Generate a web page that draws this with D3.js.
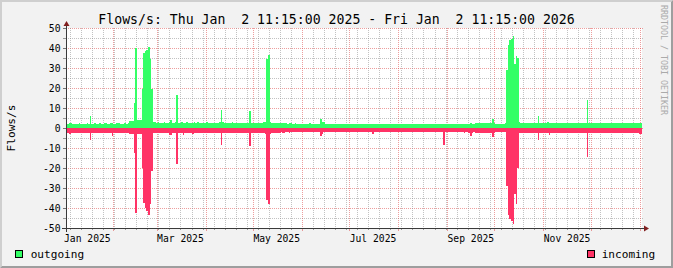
<!DOCTYPE html>
<html><head><meta charset="utf-8">
<script src="https://cdn.jsdelivr.net/npm/d3@7"></script>
<style>
html,body{margin:0;padding:0;background:#f2f2f2;}
svg{display:block;font-family:"DejaVu Sans Mono",monospace;}
</style>
</head><body>
<svg id="chart" width="673" height="268"></svg>
<script>
// ---------------- data ----------------
const titleText = "Flows/s: Thu Jan  2 11:15:00 2025 - Fri Jan  2 11:15:00 2026";
const yAxisTitle = "Flows/s";
const watermark = "RRDTOOL / TOBI OETIKER";
const seriesNames = ["outgoing", "incoming"];
const seriesColors = ["#33ff66", "#ff3366"];
const startDate = new Date(2025, 0, 2, 11, 15);
const endDate = new Date(2026, 0, 2, 11, 15);
const yDomain = [-50, 50];

// daily values, day 0 = Jan 2 2025
const outgoing = [
  1.8,1.8,2.6,2.6,2.0,2.2,2.0,2.2,2.3,2.0,
  2.1,2.2,2.0,2.3,2.1,6.2,2.2,2.0,2.4,2.2,
  2.0,2.3,2.1,2.2,2.5,2.3,2.1,2.2,2.4,2.3,
  2.2,2.1,2.3,2.4,2.2,2.2,2.1,2.3,2.2,2.4,
  3.5,3.5,3.6,12.6,40,4.0,4.0,4.0,19.6,37.6,
  38.4,39.2,40.6,34.6,19.6,3.0,2.8,2.6,2.8,2.6,
  2.7,2.6,2.9,2.5,2.6,2.8,4.0,2.6,2.7,2.8,
  16.7,2.7,2.6,2.8,2.6,2.7,3.0,2.6,2.5,2.7,
  2.6,2.8,2.6,3.2,2.7,2.6,2.5,2.7,2.6,2.8,
  2.6,2.5,2.7,2.6,2.4,2.7,2.6,2.8,9.2,2.9,
  2.6,2.5,2.7,2.6,2.5,2.8,2.6,2.5,2.7,2.6,
  2.4,2.6,2.5,2.7,2.6,2.5,8.5,2.6,2.4,2.5,
  2.6,2.7,2.5,2.4,2.6,2.8,3.0,34.5,36.5,3.2,
  2.6,2.5,2.4,2.6,2.5,2.4,2.3,2.5,2.4,2.3,
  2.2,2.4,2.3,2.2,2.1,2.3,2.2,2.1,2.0,2.2,
  2.1,2.0,2.2,2.1,2.3,2.0,2.1,2.2,2.0,2.1,
  2.2,4.5,3.0,2.8,2.2,2.0,2.1,2.2,2.0,1.9,
  2.0,2.1,1.9,2.0,2.1,1.9,2.0,1.8,2.0,1.9,
  1.8,2.0,1.9,1.8,2.0,1.9,1.8,2.0,1.9,1.8,
  1.9,1.8,2.0,1.9,1.8,1.9,2.0,1.8,1.9,2.0,
  1.9,1.8,1.9,2.0,1.8,1.9,1.8,2.0,1.9,1.8,
  1.9,2.0,1.8,1.9,1.8,1.9,2.0,1.9,1.8,1.9,
  2.0,1.9,1.8,1.9,2.0,1.8,1.9,2.0,1.9,1.8,
  1.9,2.0,1.9,1.8,1.9,2.0,1.9,1.8,1.9,2.0,
  1.9,2.0,2.1,1.9,2.0,2.1,2.0,1.9,2.1,2.0,
  2.1,2.2,2.0,2.1,2.2,2.1,2.4,2.2,2.1,2.3,
  2.4,2.5,2.6,2.4,2.5,2.6,2.5,2.6,2.4,2.5,
  4.3,2.6,2.0,2.0,2.1,2.0,2.2,2.1,2.3,28.9,
  41.4,43.9,44.5,46.2,32,36.2,35.1,2.8,2.5,2.4,
  2.5,2.4,2.6,2.5,2.4,2.5,2.7,2.6,2.5,6.2,
  2.6,2.5,2.7,2.6,2.5,3.0,2.6,2.5,2.7,2.6,
  2.5,2.6,2.4,2.5,2.6,2.5,2.4,2.6,2.5,2.4,
  2.6,2.5,2.4,2.6,2.5,2.7,2.5,2.4,2.6,2.5,
  14.2,2.6,2.5,2.4,2.6,2.5,2.4,2.6,2.5,2.4,
  2.5,2.6,2.4,2.5,2.3,2.5,2.4,2.6,2.5,2.4,
  2.6,2.5,2.4,2.5,2.6,2.4,2.5,2.6,2.4,2.5,
  2.6,2.5,2.4,2.5,2.4
];
const incoming = [
  -2.4,-2.4,-2.8,-2.6,-2.3,-2.5,-2.4,-2.3,-2.5,-2.4,
  -2.3,-2.5,-2.4,-2.6,-2.3,-6.1,-2.5,-2.4,-2.3,-2.5,
  -2.4,-2.6,-2.5,-2.3,-2.4,-2.6,-2.5,-2.4,-2.5,-3.8,
  -2.5,-2.4,-2.6,-2.5,-2.4,-2.3,-2.5,-2.4,-2.6,-2.5,
  -2.8,-3.0,-3.0,-12.4,-42.4,-3.0,-3.0,-3.2,-19.9,-37.4,
  -39.9,-41.6,-43.6,-38.2,-21.6,-2.6,-2.4,-2.5,-2.6,-2.4,
  -2.5,-2.6,-2.4,-2.5,-2.6,-3.7,-3.5,-2.5,-2.4,-2.6,
  -18.2,-2.5,-2.4,-2.6,-3.3,-2.5,-2.4,-2.6,-2.5,-2.4,
  -3.2,-2.6,-2.5,-2.4,-2.6,-2.5,-2.4,-2.5,-2.6,-2.5,
  -2.4,-2.6,-2.5,-2.4,-2.5,-2.6,-2.4,-2.5,-8.6,-2.6,
  -2.5,-2.4,-2.6,-2.5,-2.4,-2.6,-2.5,-2.4,-2.6,-2.5,
  -2.4,-2.6,-2.5,-2.4,-2.5,-2.6,-9.0,-2.5,-2.4,-2.6,
  -2.5,-2.4,-2.6,-2.5,-2.4,-2.6,-2.8,-36,-38,-2.8,
  -2.5,-2.4,-2.3,-2.5,-2.4,-2.3,-2.2,-2.4,-2.3,-2.2,
  -2.1,-2.3,-2.2,-2.1,-2.0,-2.2,-2.1,-2.0,-2.2,-2.1,
  -2.0,-2.1,-2.2,-2.0,-2.1,-2.2,-2.0,-2.1,-2.0,-2.2,
  -2.1,-4.0,-2.8,-2.2,-2.0,-2.1,-2.2,-2.0,-2.1,-2.0,
  -1.9,-2.0,-2.1,-1.9,-2.0,-1.8,-1.9,-2.0,-1.8,-1.9,
  -2.0,-1.9,-1.8,-2.0,-1.9,-1.8,-2.0,-1.9,-1.8,-1.9,
  -1.8,-1.9,-2.0,-1.9,-3.0,-1.8,-1.9,-2.0,-1.9,-1.8,
  -1.9,-2.0,-1.8,-1.9,-2.0,-1.9,-1.8,-1.9,-2.0,-1.9,
  -1.8,-1.9,-2.0,-1.9,-1.8,-1.9,-2.0,-1.8,-1.9,-2.0,
  -1.9,-1.8,-2.0,-1.9,-1.8,-2.0,-1.9,-1.8,-1.9,-2.0,
  -1.9,-1.8,-1.9,-2.0,-1.9,-1.8,-2.0,-1.9,-1.8,-8.3,
  -2.0,-2.1,-1.9,-2.0,-2.1,-2.0,-2.2,-2.1,-2.0,-2.2,
  -2.1,-2.2,-2.3,-2.1,-2.2,-2.4,-4.0,-2.3,-2.2,-2.4,
  -2.3,-2.5,-2.4,-2.3,-2.5,-2.4,-2.6,-2.5,-2.4,-2.5,
  -4.4,-2.3,-1.9,-2.0,-1.9,-2.1,-2.0,-1.9,-2.1,-29.1,
  -43.3,-45.7,-46.5,-48.2,-33.2,-38.2,-19.9,-2.5,-2.4,-2.6,
  -2.5,-2.4,-2.6,-2.5,-2.4,-2.5,-2.6,-2.4,-2.5,-5.8,
  -2.4,-2.6,-2.5,-2.4,-2.5,-2.6,-3.5,-2.5,-2.4,-2.6,
  -2.5,-2.4,-2.6,-2.5,-2.4,-2.5,-2.6,-2.4,-2.5,-2.6,
  -2.4,-2.5,-2.6,-2.4,-2.5,-2.6,-2.4,-2.5,-2.6,-2.4,
  -14.4,-2.5,-2.4,-2.6,-2.5,-2.4,-2.6,-2.5,-2.4,-2.6,
  -2.5,-2.4,-2.6,-2.5,-2.4,-2.6,-2.5,-2.4,-2.5,-2.6,
  -2.4,-2.5,-2.6,-2.4,-2.5,-2.6,-2.4,-2.5,-2.6,-2.4,
  -2.5,-2.6,-2.4,-2.8,-3.0
];

// ---------------- layout ----------------
const W = 673, H = 268;
const X0 = 66, X1 = 642, YT = 28, YB = 228;
const BACK = "#f2f2f2", SHADEA = "#cfcfcf", SHADEB = "#9e9e9e";
const GRID = "rgba(143,143,143,0.55)", MGRID = "rgba(222,79,79,0.55)";
const AXIS = "#3a3a3a", ARROW = "#801f1f";

const svg = d3.select("#chart");
const x = d3.scaleTime().domain([startDate, endDate]).range([X0, X1]);
const y = d3.scaleLinear().domain(yDomain).range([YB, YT]);

// background & frame
svg.append("rect").attr("width", W).attr("height", H).attr("fill", BACK);
svg.append("path").attr("fill", SHADEA)
  .attr("d", `M0,${H}L2,${H-2}L2,2L${W-2},2L${W},0L0,0Z`);
svg.append("path").attr("fill", SHADEB)
  .attr("d", `M2,${H-2}L${W-2},${H-2}L${W-2},2L${W},0L${W},${H}L0,${H}Z`);
svg.append("rect").attr("x", X0).attr("y", YT).attr("width", X1 - X0).attr("height", YB - YT).attr("fill", "#fff");

const g = svg.append("g");

// horizontal grid
const yMinor = y.ticks(20), yMajor = y.ticks(10);
yMinor.forEach(v => {
  const yy = Math.round(y(v)) + 0.5;
  const major = yMajor.includes(v);
  g.append("line").attr("x1", X0 - 2).attr("x2", X1 + 2).attr("y1", yy).attr("y2", yy)
    .attr("stroke", major ? MGRID : GRID).attr("stroke-dasharray", "1,1");
  g.append("line").attr("x1", X0 - 3).attr("x2", X0).attr("y1", yy).attr("y2", yy)
    .attr("stroke", major ? "#777" : "#999");
});

// vertical grid
const monthStarts = d3.timeMonth.range(startDate, endDate);
const weekStarts = d3.timeWeek.range(startDate, endDate);
weekStarts.forEach(d => {
  if (monthStarts.some(m => +m === +d)) return;
  const xx = Math.round(x(d)) + 0.5;
  g.append("line").attr("x1", xx).attr("x2", xx).attr("y1", YT).attr("y2", YB)
    .attr("stroke", GRID).attr("stroke-dasharray", "1,1");
  g.append("line").attr("x1", xx).attr("x2", xx).attr("y1", YB).attr("y2", YB + 2)
    .attr("stroke", "#999");
});
monthStarts.forEach(d => {
  const xx = Math.round(x(d)) + 0.5;
  g.append("line").attr("x1", xx).attr("x2", xx).attr("y1", YT).attr("y2", YB)
    .attr("stroke", MGRID).attr("stroke-dasharray", "1,1");
  g.append("line").attr("x1", xx).attr("x2", xx).attr("y1", YB).attr("y2", YB + 3)
    .attr("stroke", MGRID);
});

// areas
function series(vals) {
  const pts = vals.map((v, i) => ({ d: d3.timeDay.offset(startDate, i), v }));
  pts.push({ d: endDate, v: vals[vals.length - 1] });
  return pts;
}
const area = d3.area().curve(d3.curveStepAfter)
  .x(p => x(p.d)).y0(y(0)).y1(p => y(p.v));
[outgoing, incoming].forEach((vals, k) => {
  svg.append("path").datum(series(vals)).attr("d", area)
    .attr("fill", seriesColors[k]).attr("shape-rendering", "crispEdges");
});

// axes
svg.append("line").attr("x1", X0 - 4).attr("x2", X1 + 4).attr("y1", YB + 0.5).attr("y2", YB + 0.5)
  .attr("stroke", AXIS);
svg.append("line").attr("x1", X0 + 0.5).attr("x2", X0 + 0.5).attr("y1", YB + 4).attr("y2", YT - 4)
  .attr("stroke", AXIS);
svg.append("path").attr("fill", ARROW)
  .attr("d", `M${X1+2},${YB-2.5}L${X1+2},${YB+3.5}L${X1+7},${YB+0.5}Z`);
svg.append("path").attr("fill", ARROW)
  .attr("d", `M${X0-2.5},${YT-2}L${X0+3.5},${YT-2}L${X0+0.5},${YT-7}Z`);

// y labels
yMajor.forEach(v => {
  svg.append("text").attr("x", 60.5).attr("y", y(v) + 3.8)
    .attr("text-anchor", "end").attr("font-size", "9.7px").attr("fill", "#000")
    .text(String(v));
});

// x labels (every 2 months, centred mid-month)
const labelMonths = d3.timeMonth.every(2).range(d3.timeYear.floor(startDate), endDate);
const fmt = d3.timeFormat("%b %Y");
labelMonths.forEach(m => {
  const c = d3.timeDay.offset(m, 15);
  if (c < startDate || c > endDate) return;
  svg.append("text").attr("x", x(c)).attr("y", 241.5)
    .attr("text-anchor", "middle").attr("font-size", "9.7px").attr("fill", "#000")
    .text(fmt(m));
});

// title
svg.append("text").attr("x", W / 2).attr("y", 23.5).attr("text-anchor", "middle")
  .attr("font-size", "13.2px").attr("fill", "#000").style("white-space", "pre")
  .text(titleText);

// y axis title
svg.append("text").attr("transform", `translate(15,${(YT + YB) / 2}) rotate(-90)`)
  .attr("text-anchor", "middle").attr("font-size", "11.1px").attr("fill", "#000")
  .text(yAxisTitle);

// watermark
svg.append("text").attr("transform", "translate(660.5,5) rotate(90)")
  .attr("font-size", "8.3px").attr("fill", "#aaaaaa").text(watermark);

// legend
const legendPos = [[15.5, 30.7], [587.5, 601.7]];
seriesNames.forEach((n, k) => {
  svg.append("rect").attr("x", legendPos[k][0]).attr("y", 250.5).attr("width", 7).attr("height", 7)
    .attr("fill", seriesColors[k]).attr("stroke", "#000");
  svg.append("text").attr("x", legendPos[k][1]).attr("y", 257.5)
    .attr("font-size", "11.1px").attr("fill", "#000").text(n);
});
</script>
</body></html>
